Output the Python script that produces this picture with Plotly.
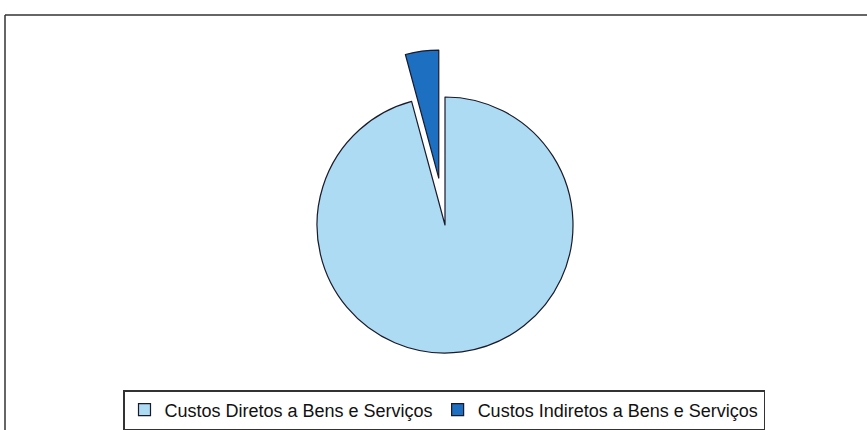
import plotly.graph_objects as go

labels = ["Custos Diretos a Bens e Serviços", "Custos Indiretos a Bens e Serviços"]
values = [95.8, 4.2]
colors = ["#ACDBF3", "#1D6FC2"]
pulls = [0, 0.37]

W, H = 867, 430
cx, cy, r = 445, 225, 128
maxpull = max(pulls)
half = r * (1 + maxpull)

fig = go.Figure(go.Pie(
    labels=labels, values=values, sort=False, direction="clockwise", rotation=0,
    pull=pulls, textinfo="none", hoverinfo="label+percent",
    marker=dict(colors=colors, line=dict(color="#1a1a2a", width=1.2)),
    domain=dict(x=[(cx - half) / W, (cx + half) / W],
                y=[(H - cy - half) / H, (H - cy + half) / H]),
))

fig.update_layout(
    width=W, height=H, margin=dict(l=0, r=0, t=0, b=0),
    paper_bgcolor="white", plot_bgcolor="white",
    font=dict(family="Liberation Sans, Arial, sans-serif", size=18, color="#111"),
    legend=dict(orientation="h", x=444 / W, xanchor="center", y=(H - 410) / H, yanchor="middle",
                bordercolor="#333", borderwidth=1.5, bgcolor="white",
                itemwidth=30, tracegroupgap=0),
    shapes=[
        dict(type="line", xref="paper", yref="paper", x0=5 / W, x1=1, y0=(H - 15) / H, y1=(H - 15) / H,
             line=dict(color="#333", width=1.5)),
        dict(type="line", xref="paper", yref="paper", x0=5 / W, x1=5 / W, y0=0, y1=(H - 15) / H,
             line=dict(color="#333", width=1.5)),
    ],
)

fig.write_html("out.html", config={"displayModeBar": False},
               post_script="document.body.style.margin='0';document.body.style.overflow='hidden';")
